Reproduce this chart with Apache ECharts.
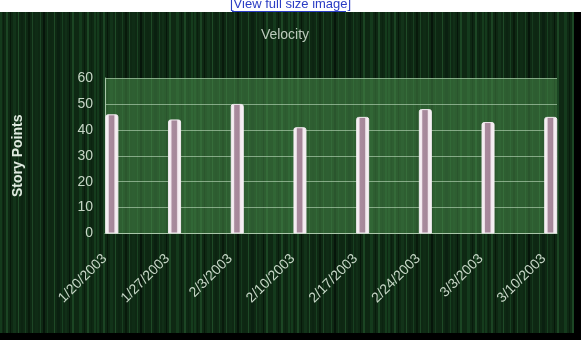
<!DOCTYPE html>
<html>
<head>
<meta charset="utf-8">
<script src="https://cdn.jsdelivr.net/npm/echarts@6/dist/echarts.min.js"></script>
<style>
  html, body { margin: 0; padding: 0; background: #ffffff; }
  #chart { width: 581px; height: 340px; }
</style>
</head>
<body>
<div id="chart"></div>
<script>
// ---- data ----
var categories = ['1/20/2003', '1/27/2003', '2/3/2003', '2/10/2003', '2/17/2003', '2/24/2003', '3/3/2003', '3/10/2003'];
var storyPoints = [46, 44, 50, 41, 45, 48, 43, 45];
var yTicks = [0, 10, 20, 30, 40, 50, 60];

// decorative vertical-streak texture for the background
var streaks = [
  [0, 2, '#143a1c'], [3, 1, '#0a1f0e'], [6, 2, '#1b4423'], [10, 1, '#07180a'],
  [13, 3, '#123319'], [18, 1, '#1f4a27'], [21, 2, '#0c2411'], [25, 1, '#183f20'],
  [28, 2, '#081a0b'], [32, 1, '#1d4625'], [35, 3, '#0f2c15'], [40, 1, '#1a4222'],
  [43, 2, '#06150a'], [47, 1, '#163b1e'], [50, 2, '#0d2712'], [54, 1, '#1e4926'],
  [57, 3, '#0a2010'], [62, 1, '#174020'], [65, 2, '#112f17'], [69, 1, '#06160a'],
  [72, 2, '#1b4523'], [76, 1, '#0e2913'], [79, 3, '#143a1c'], [84, 1, '#081b0c'],
  [87, 2, '#1c4624'], [91, 1, '#0b2310'], [94, 2, '#153c1d']
];
var tex = document.createElement('canvas');
tex.width = 97; tex.height = 4;
var tctx = tex.getContext('2d');
tctx.fillStyle = '#0e2813';
tctx.fillRect(0, 0, 97, 4);
streaks.forEach(function (s) { tctx.fillStyle = s[2]; tctx.fillRect(s[0], 0, s[1], 4); });

var chart = echarts.init(document.getElementById('chart'), null, { renderer: 'canvas' });

var option = {
  backgroundColor: '#ffffff',
  animation: false,
  graphic: [
    { type: 'rect', z: -100, shape: { x: 0, y: 12, width: 575, height: 322 },
      style: { fill: { image: tex, repeat: 'repeat' } } },
    { type: 'rect', z: -99, shape: { x: 574, y: 12, width: 7, height: 328 }, style: { fill: '#000000' } },
    { type: 'rect', z: -99, shape: { x: 0, y: 333, width: 581, height: 7 }, style: { fill: '#000000' } },
    { type: 'text', z: 10, left: 230, top: -2,
      style: { text: '[View full size image]', fill: '#2a3cc4', font: '13px "Liberation Sans", Arial, sans-serif' } },
    { type: 'rect', z: 10, shape: { x: 232, y: 11, width: 114, height: 1 }, style: { fill: '#2a3cc4' } }
  ],
  title: {
    text: 'Velocity',
    left: 280, top: 23, textAlign: 'center',
    textStyle: { color: '#bccbbc', fontSize: 14, fontWeight: 'normal', fontFamily: 'Liberation Sans, Arial, sans-serif' }
  },
  grid: {
    left: 105, right: 24, top: 78, bottom: 106.5,
    show: true,
    backgroundColor: 'rgba(72, 138, 74, 0.55)',
    borderWidth: 0
  },
  xAxis: {
    type: 'value',
    min: -0.11, max: 7.1,
    splitLine: { show: false },
    axisTick: { show: false },
    axisLine: { show: true, onZero: false, lineStyle: { color: '#a9c6a9', width: 1 } },
    axisLabel: {
      customValues: categories.map(function (c, i) { return i; }),
      formatter: function (v) { return categories[Math.round(v)]; },
      rotate: 45,
      margin: 16,
      padding: [0, 10, 0, 0],
      color: '#c6d6c6',
      fontSize: 14,
      fontFamily: 'Liberation Sans, Arial, sans-serif'
    }
  },
  yAxis: {
    type: 'value',
    min: 0, max: 60, interval: 10,
    name: 'Story Points',
    nameLocation: 'middle',
    nameGap: 80,
    nameTextStyle: { color: '#e0eae0', fontSize: 14, fontWeight: 'bold', fontFamily: 'Liberation Sans, Arial, sans-serif' },
    axisLine: { show: true, onZero: false, lineStyle: { color: '#a9c6a9', width: 1 } },
    axisTick: { show: false },
    splitLine: { show: true, lineStyle: { color: 'rgba(190, 220, 190, 0.6)', width: 1 } },
    axisLabel: {
      margin: 12,
      color: '#c6d6c6',
      fontSize: 14,
      fontFamily: 'Liberation Sans, Arial, sans-serif',
      formatter: function (v) { return yTicks.indexOf(v) >= 0 ? String(v) : ''; }
    }
  },
  series: [{
    type: 'bar',
    barWidth: 13,
    data: storyPoints.map(function (v, i) { return [i, v]; }),
    itemStyle: {
      borderRadius: [2, 2, 0, 0],
      borderColor: '#f3ecf1',
      borderWidth: 1,
      color: {
        type: 'linear', x: 0, y: 0, x2: 1, y2: 0,
        colorStops: [
          { offset: 0, color: '#fbf7fa' },
          { offset: 0.22, color: '#f2e8ee' },
          { offset: 0.3, color: '#a98b9e' },
          { offset: 0.64, color: '#a58799' },
          { offset: 0.74, color: '#f2e8ee' },
          { offset: 1, color: '#fbf7fa' }
        ]
      }
    }
  }]
};
chart.setOption(option);
</script>
</body>
</html>
